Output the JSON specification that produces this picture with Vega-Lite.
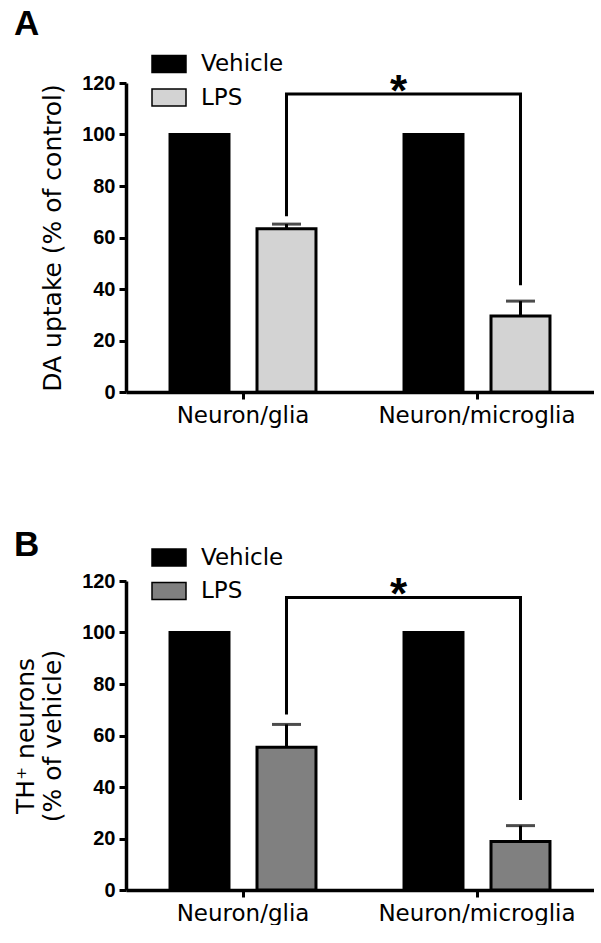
{
  "$schema": "https://vega.github.io/schema/vega-lite/v6.json",
  "padding": {"left": 13, "top": 7, "right": 0, "bottom": 0},
  "background": "white",
  "config": {
    "view": {"stroke": null},
    "font": "DejaVu Sans, sans-serif",
    "axis": {"domainColor": "black", "tickColor": "black", "labelColor": "black", "titleColor": "black", "grid": false, "domainWidth": 3.5, "tickWidth": 3, "tickSize": 7},
    "axisY": {"labelFont": "Liberation Sans, Arial, sans-serif", "labelFontSize": 20, "labelFontWeight": "bold", "labelPadding": 4, "titleFont": "DejaVu Sans, sans-serif", "titleFontSize": 25, "titleFontWeight": "normal", "titlePadding": 16},
    "axisX": {"labelFont": "DejaVu Sans, sans-serif", "labelFontSize": 23, "labelAngle": 0, "labelPadding": 5, "labelLimit": 400, "labelOverlap": false, "title": null},
    "title": {"font": "Liberation Sans, Arial, sans-serif", "fontSize": 35, "fontWeight": "bold", "anchor": "start", "frame": "group", "color": "black"}
  },
  "datasets": {
    "barsA": [
      {"group": "Neuron/glia", "treatment": "Vehicle", "value": 100},
      {"group": "Neuron/glia", "treatment": "LPS", "value": 63.4, "upper": 65.2},
      {"group": "Neuron/microglia", "treatment": "Vehicle", "value": 100},
      {"group": "Neuron/microglia", "treatment": "LPS", "value": 29.5, "upper": 35.3}
    ],
    "bracketA": [
      {"group": "Neuron/glia", "step": 1, "y": 68.3},
      {"group": "Neuron/glia", "step": 2, "y": 115.7},
      {"group": "Neuron/microglia", "step": 3, "y": 115.7},
      {"group": "Neuron/microglia", "step": 4, "y": 41.5}
    ],
    "starA": [{"group": "Neuron/microglia", "y": 115.7, "label": "*"}],
    "barsB": [
      {"group": "Neuron/glia", "treatment": "Vehicle", "value": 100},
      {"group": "Neuron/glia", "treatment": "LPS", "value": 55.4, "upper": 64.3},
      {"group": "Neuron/microglia", "treatment": "Vehicle", "value": 100},
      {"group": "Neuron/microglia", "treatment": "LPS", "value": 18.8, "upper": 25}
    ],
    "bracketB": [
      {"group": "Neuron/glia", "step": 1, "y": 68.2},
      {"group": "Neuron/glia", "step": 2, "y": 113.6},
      {"group": "Neuron/microglia", "step": 3, "y": 113.6},
      {"group": "Neuron/microglia", "step": 4, "y": 35}
    ],
    "starB": [{"group": "Neuron/microglia", "y": 113.6, "label": "*"}]
  },
  "spacing": 100,
  "resolve": {"scale": {"color": "independent"}, "legend": {"color": "independent"}},
  "vconcat": [
    {
      "title": {"text": "A", "dx": -112},
      "width": 468,
      "height": 309,
      "layer": [
        {
          "data": {"name": "barsA"},
          "mark": {"type": "bar", "stroke": "black", "strokeWidth": 3},
          "encoding": {
            "x": {"field": "group", "type": "nominal", "sort": null, "scale": {"domain": ["Neuron/glia", "Neuron/microglia"], "paddingInner": 0, "paddingOuter": 0}, "axis": {"title": null}},
            "xOffset": {"field": "treatment", "type": "nominal", "scale": {"domain": ["Vehicle", "LPS"], "paddingInner": 0.322, "paddingOuter": 0.506}},
            "y": {"field": "value", "type": "quantitative", "scale": {"domain": [0, 120], "nice": false}, "axis": {"values": [0, 20, 40, 60, 80, 100, 120], "title": "DA uptake (% of control)"}},
            "color": {"field": "treatment", "type": "nominal", "scale": {"domain": ["Vehicle", "LPS"], "range": ["#000000", "#d3d3d3"]},
              "legend": {"title": null, "orient": "none", "legendX": 25, "legendY": -37, "symbolType": "M-1,-0.5H1V0.5H-1Z", "symbolSize": 1156, "labelFont": "DejaVu Sans, sans-serif", "labelFontSize": 23, "labelOffset": 14, "rowPadding": 3.5, "labelColor": "black",
                "encode": {"symbols": {"update": {"stroke": {"value": "black"}, "strokeWidth": {"value": 3}}}}}}
          }
        },
        {
          "data": {"name": "barsA"},
          "transform": [{"filter": "datum.upper != null"}],
          "mark": {"type": "rule", "strokeWidth": 3, "color": "black"},
          "encoding": {
            "x": {"field": "group", "type": "nominal"},
            "xOffset": {"field": "treatment", "type": "nominal"},
            "y": {"field": "value", "type": "quantitative"},
            "y2": {"field": "upper"}
          }
        },
        {
          "data": {"name": "barsA"},
          "transform": [{"filter": "datum.upper != null"}],
          "mark": {"type": "tick", "orient": "horizontal", "size": 29, "thickness": 3, "color": "black"},
          "encoding": {
            "x": {"field": "group", "type": "nominal"},
            "xOffset": {"field": "treatment", "type": "nominal"},
            "y": {"field": "upper", "type": "quantitative"}
          }
        },
        {
          "data": {"name": "bracketA"},
          "mark": {"type": "line", "color": "black", "strokeWidth": 3},
          "encoding": {
            "x": {"field": "group", "type": "nominal"},
            "xOffset": {"datum": "LPS"},
            "y": {"field": "y", "type": "quantitative"},
            "order": {"field": "step"}
          }
        },
        {
          "data": {"name": "starA"},
          "mark": {"type": "text", "font": "Liberation Sans, Arial, sans-serif", "fontSize": 44, "fontWeight": "bold", "dx": -35, "dy": 12, "baseline": "alphabetic", "color": "black"},
          "encoding": {
            "x": {"field": "group", "type": "nominal"},
            "xOffset": {"datum": "Vehicle"},
            "y": {"field": "y", "type": "quantitative"},
            "text": {"field": "label"}
          }
        }
      ]
    },
    {
      "title": {"text": "B", "dx": -112, "dy": 27},
      "width": 468,
      "height": 309,
      "layer": [
        {
          "data": {"name": "barsB"},
          "mark": {"type": "bar", "stroke": "black", "strokeWidth": 3},
          "encoding": {
            "x": {"field": "group", "type": "nominal", "sort": null, "scale": {"domain": ["Neuron/glia", "Neuron/microglia"], "paddingInner": 0, "paddingOuter": 0}, "axis": {"title": null}},
            "xOffset": {"field": "treatment", "type": "nominal", "scale": {"domain": ["Vehicle", "LPS"], "paddingInner": 0.322, "paddingOuter": 0.506}},
            "y": {"field": "value", "type": "quantitative", "scale": {"domain": [0, 120], "nice": false}, "axis": {"values": [0, 20, 40, 60, 80, 100, 120], "title": ["TH⁺ neurons", "(% of vehicle)"], "titleLineHeight": 27}},
            "color": {"field": "treatment", "type": "nominal", "scale": {"domain": ["Vehicle", "LPS"], "range": ["#000000", "#808080"]},
              "legend": {"title": null, "orient": "none", "legendX": 25, "legendY": -41.5, "symbolType": "M-1,-0.5H1V0.5H-1Z", "symbolSize": 1156, "labelFont": "DejaVu Sans, sans-serif", "labelFontSize": 23, "labelOffset": 14, "rowPadding": 3.5, "labelColor": "black",
                "encode": {"symbols": {"update": {"stroke": {"value": "black"}, "strokeWidth": {"value": 3}}}}}}
          }
        },
        {
          "data": {"name": "barsB"},
          "transform": [{"filter": "datum.upper != null"}],
          "mark": {"type": "rule", "strokeWidth": 3, "color": "black"},
          "encoding": {
            "x": {"field": "group", "type": "nominal"},
            "xOffset": {"field": "treatment", "type": "nominal"},
            "y": {"field": "value", "type": "quantitative"},
            "y2": {"field": "upper"}
          }
        },
        {
          "data": {"name": "barsB"},
          "transform": [{"filter": "datum.upper != null"}],
          "mark": {"type": "tick", "orient": "horizontal", "size": 29, "thickness": 3, "color": "black"},
          "encoding": {
            "x": {"field": "group", "type": "nominal"},
            "xOffset": {"field": "treatment", "type": "nominal"},
            "y": {"field": "upper", "type": "quantitative"}
          }
        },
        {
          "data": {"name": "bracketB"},
          "mark": {"type": "line", "color": "black", "strokeWidth": 3},
          "encoding": {
            "x": {"field": "group", "type": "nominal"},
            "xOffset": {"datum": "LPS"},
            "y": {"field": "y", "type": "quantitative"},
            "order": {"field": "step"}
          }
        },
        {
          "data": {"name": "starB"},
          "mark": {"type": "text", "font": "Liberation Sans, Arial, sans-serif", "fontSize": 44, "fontWeight": "bold", "dx": -35, "dy": 12, "baseline": "alphabetic", "color": "black"},
          "encoding": {
            "x": {"field": "group", "type": "nominal"},
            "xOffset": {"datum": "Vehicle"},
            "y": {"field": "y", "type": "quantitative"},
            "text": {"field": "label"}
          }
        }
      ]
    }
  ]
}
